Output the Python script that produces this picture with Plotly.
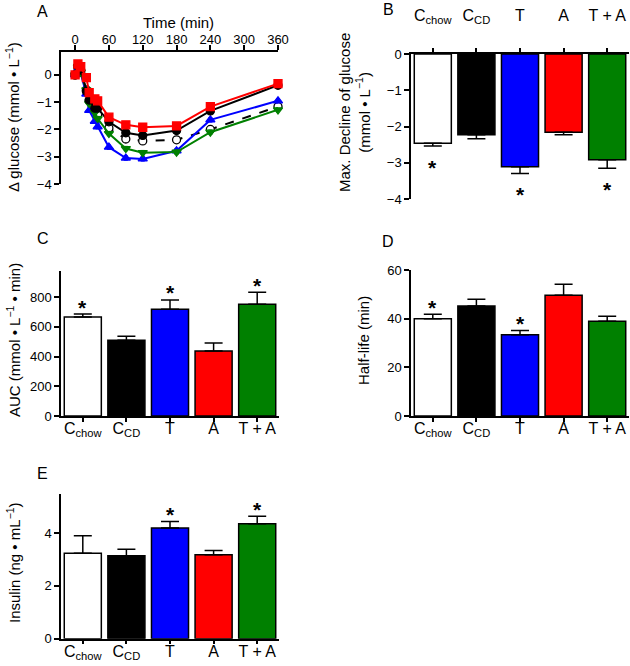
import plotly.graph_objects as go

# ---------------- data ----------------
groups = ["C<sub>chow</sub>", "C<sub>CD</sub>", "T", "A", "T + A"]
bar_colors = ["#ffffff", "#000000", "#0000ff", "#ff0000", "#008000"]

# Panel A: time course of delta glucose
time_min = [0, 5, 10, 20, 25, 35, 40, 60, 90, 120, 180, 240, 360]
glu_cchow = [0.0, 0.25, 0.10, -0.55, -0.95, -1.30, -1.45, -1.95, -2.35, -2.42, -2.38, -2.00, -1.16]
glu_ccd = [0.0, 0.33, 0.18, -0.60, -0.92, -1.22, -1.22, -1.72, -2.12, -2.22, -2.04, -1.32, -0.38]
glu_t = [0.0, 0.20, 0.05, -0.70, -1.30, -1.70, -1.90, -2.65, -3.05, -3.08, -2.78, -1.65, -0.95]
glu_a = [0.0, 0.40, 0.30, -0.10, -0.65, -0.88, -0.95, -1.55, -1.83, -1.92, -1.87, -1.16, -0.32]
glu_ta = [0.0, 0.30, 0.10, -0.55, -1.05, -1.38, -1.60, -2.15, -2.70, -2.85, -2.83, -2.10, -1.28]
glu_err = [0.06, 0.08, 0.08, 0.08, 0.08, 0.08, 0.08, 0.08, 0.08, 0.08, 0.08, 0.08, 0.08]

# Panel B: max decline of glucose
maxdec = [-2.46, -2.23, -3.11, -2.16, -2.92]
maxdec_err = [0.08, 0.11, 0.19, 0.07, 0.23]
maxdec_sig = [True, False, True, False, True]

# Panel C: AUC
auc = [667, 510, 719, 438, 753]
auc_err = [20, 27, 63, 54, 81]
auc_sig = [True, False, True, False, True]

# Panel D: half-life
halflife = [40.0, 45.2, 33.4, 49.6, 38.9]
halflife_err = [1.8, 2.8, 1.7, 4.5, 2.1]
halflife_sig = [True, False, True, False, False]

# Panel E: insulin
insulin = [3.24, 3.14, 4.19, 3.18, 4.35]
insulin_err = [0.66, 0.25, 0.25, 0.16, 0.29]
insulin_sig = [False, False, True, False, True]

W, H = 630, 666
FONT = "Arial, Liberation Sans, sans-serif"


def dx(px):
    return px / W


def dy(px):
    return 1 - px / H


fig = go.Figure()

# ---------------- Panel A ----------------
series = [
    (glu_cchow, "#000000", "circle", "dash", "white"),
    (glu_t, "#0000ff", "triangle-up", "solid", "#0000ff"),
    (glu_ta, "#008000", "triangle-down", "solid", "#008000"),
    (glu_ccd, "#000000", "circle", "solid", "#000000"),
    (glu_a, "#ff0000", "square", "solid", "#ff0000"),
]
for vals, col, sym, dash, fill in series:
    fig.add_trace(go.Scatter(
        x=time_min, y=vals, mode="lines+markers",
        line=dict(color=col, width=2, dash=dash),
        marker=dict(symbol=sym, size=8, color=fill, line=dict(color=col, width=1.3)),
        error_y=dict(type="data", array=glu_err, color=col, thickness=1, width=2),
        xaxis="x", yaxis="y", cliponaxis=False, showlegend=False))

axis_common = dict(showline=True, linecolor="black", linewidth=1.5, ticks="outside",
                   ticklen=5, tickwidth=1.5, tickcolor="black", showgrid=False,
                   zeroline=False, automargin=False,
                   tickfont=dict(family=FONT, size=13, color="black"))

cat_axis = dict(axis_common)
cat_axis["tickfont"] = dict(family=FONT, size=16, color="black")
cat_axis["ticklen"] = 4

layout = dict(
    template="none",
    width=W, height=H, margin=dict(l=0, r=0, t=0, b=0, pad=0),
    paper_bgcolor="white", plot_bgcolor="white", showlegend=False,
    bargap=0.15,
    xaxis=dict(domain=[dx(61), dx(278)], anchor="y", side="top", range=[-25, 360],
               tickvals=[0, 60, 120, 180, 240, 300, 360], ticklabelstandoff=-4,
               **axis_common),
    yaxis=dict(domain=[dy(184), dy(52)], anchor="x", range=[-4, 0.84],
               tickvals=[-4, -3, -2, -1, 0], **axis_common),
)


def bar_panel(n, vals, errs, down):
    xa = "x" if n == 1 else f"x{n}"
    ya = "y" if n == 1 else f"y{n}"
    fig.add_trace(go.Bar(
        x=groups, y=vals,
        marker=dict(color=bar_colors, line=dict(color="black", width=1.5)),
        error_y=dict(type="data", symmetric=False,
                     array=[0] * len(vals) if down else errs,
                     arrayminus=errs if down else [0] * len(vals),
                     color="black", thickness=1.5, width=9),
        xaxis=xa, yaxis=ya, showlegend=False))


bar_panel(2, maxdec, maxdec_err, True)
bar_panel(3, auc, auc_err, False)
bar_panel(4, halflife, halflife_err, False)
bar_panel(5, insulin, insulin_err, False)

layout["xaxis2"] = dict(domain=[dx(411), dx(629)], anchor="y2", side="top",
                        ticklabelstandoff=21, **cat_axis)
layout["yaxis2"] = dict(domain=[dy(199), dy(54)], anchor="x2", range=[-4, 0],
                        tickvals=[-4, -3, -2, -1, 0], **axis_common)
layout["xaxis3"] = dict(domain=[dx(61), dx(279)], anchor="y3", ticklabelstandoff=-7, **cat_axis)
layout["yaxis3"] = dict(domain=[dy(416), dy(270.5)], anchor="x3", range=[0, 980],
                        tickvals=[0, 200, 400, 600, 800], **axis_common)
layout["xaxis4"] = dict(domain=[dx(411), dx(629)], anchor="y4", ticklabelstandoff=-7, **cat_axis)
layout["yaxis4"] = dict(domain=[dy(416), dy(270)], anchor="x4", range=[0, 60],
                        tickvals=[0, 20, 40, 60], **axis_common)
layout["xaxis5"] = dict(domain=[dx(61), dx(279)], anchor="y5", ticklabelstandoff=-7, **cat_axis)
layout["yaxis5"] = dict(domain=[dy(638.7), dy(493.5)], anchor="x5", range=[0, 5.5],
                        tickvals=[0, 2, 4], **axis_common)

annotations = []


def txt(x, y, text, size=15, angle=0):
    annotations.append(dict(x=x, y=y, xref="paper", yref="paper", text=text,
                            showarrow=False, textangle=angle,
                            xanchor="center", yanchor="middle",
                            font=dict(family=FONT, size=size, color="black")))


# panel letters
txt(dx(43), dy(11), "A", 16)
txt(dx(388), dy(10), "B", 16)
txt(dx(43), dy(239), "C", 16)
txt(dx(388), dy(241), "D", 16)
txt(dx(43), dy(473), "E", 16)

# axis titles
txt(dx(178), dy(22), "Time (min)", 15)
txt(dx(13), dy(117), "Δ glucose (mmol • L<sup>−1</sup>)", 15, -90)
txt(dx(354), dy(113), "Max. Decline of glucose<br>(mmol • L<sup>−1</sup>)", 15, -90)
txt(dx(13), dy(340), "AUC (mmol • L<sup>−1</sup> • min)", 15, -90)
txt(dx(363), dy(340), "Half-life (min)", 15, -90)
txt(dx(13), dy(563), "Insulin (ng • mL<sup>−1</sup>)", 15, -90)


def stars(n, vals, errs, sig, down):
    xa = "x" if n == 1 else f"x{n}"
    ya = "y" if n == 1 else f"y{n}"
    for g, v, e, s in zip(groups, vals, errs, sig):
        if not s:
            continue
        yv = v - e if down else v + e
        annotations.append(dict(x=g, y=yv, xref=xa, yref=ya, text="<b>*</b>", showarrow=False,
                                xanchor="center", yanchor="middle",
                                yshift=-21 if down else 7,
                                font=dict(family=FONT, size=21, color="black")))


stars(2, maxdec, maxdec_err, maxdec_sig, True)
stars(3, auc, auc_err, auc_sig, False)
stars(4, halflife, halflife_err, halflife_sig, False)
stars(5, insulin, insulin_err, insulin_sig, False)

layout["annotations"] = annotations
fig.update_layout(**layout)
fig.write_html("out.html", config={"displayModeBar": False},
               post_script="document.body.style.margin='0';document.body.style.overflow='hidden';")
